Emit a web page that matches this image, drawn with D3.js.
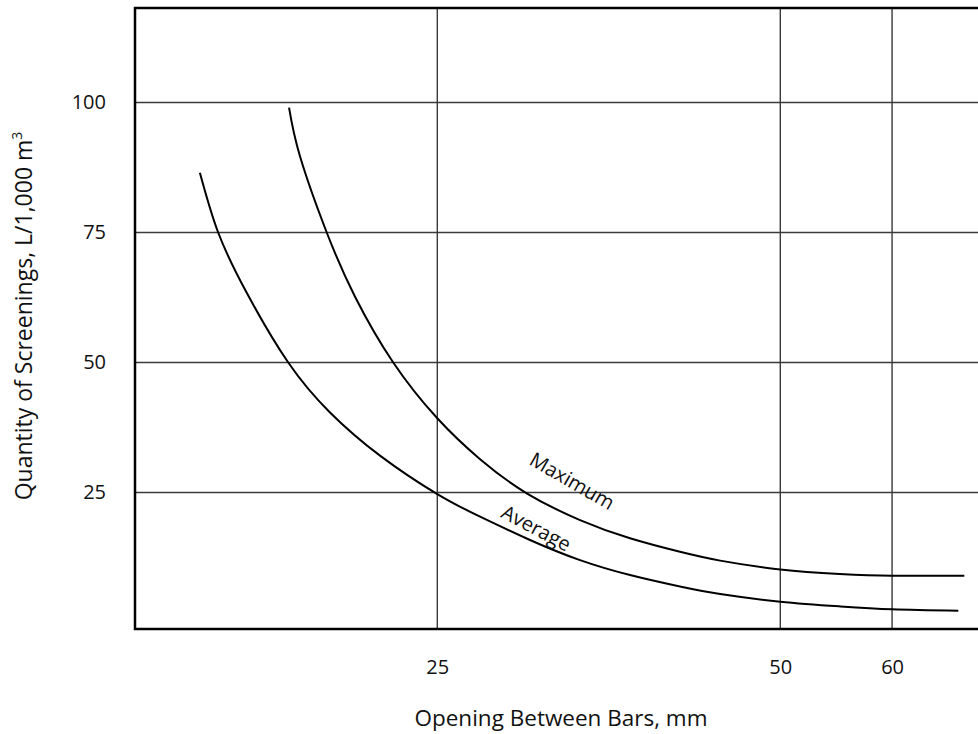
<!DOCTYPE html>
<html>
<head>
<meta charset="utf-8">
<script src="https://cdn.jsdelivr.net/npm/d3@7"></script>
<style>
  html, body { margin: 0; padding: 0; background: #fff; }
  svg { display: block; }
  text { font-family: "Open Sans", "Noto Sans", sans-serif; fill: #111; }
</style>
</head>
<body>
<svg id="chart" width="978" height="734"></svg>
<script>
// Screenings retained vs. clear opening between bars
const xTicks = [25, 50, 60];
const yTicks = [25, 50, 75, 100];

const maximumOpening = [16.85, 17.4, 18.77, 20.28, 22.41, 25, 27.65, 30.69, 34.36, 37.99, 41.8, 45, 50, 55.2, 60, 66.95];
const maximumQty     = [99.0, 89.6, 75, 62.65, 50, 39.27, 31.4, 24.85, 19.7, 16.2, 13.6, 11.9, 10.2, 9.35, 9.0, 9.0];

const averageOpening = [12.72, 13.52, 14.83, 16.81, 18.94, 21.66, 25, 27.65, 30.91, 34.36, 37.99, 41.8, 45, 50, 55.2, 60, 66.36];
const averageQty     = [86.5, 75, 63.3, 50, 40.4, 32.1, 24.7, 20.35, 15.87, 12.0, 9.13, 6.92, 5.46, 4.0, 3.1, 2.54, 2.27];

const svg = d3.select("#chart");

// Plot frame
const plotLeft = 135, plotRight = 978, plotTop = 8, plotBottom = 629;

// Square-root opening scale, linear quantity scale
const x = d3.scaleSqrt().domain([25, 50]).range([437.3, 780.3]);
const y = d3.scaleLinear().domain([25, 100]).range([492.5, 102.5]);

// Grid lines
const grid = svg.append("g").attr("stroke", "#3a3a3a").attr("stroke-width", 1.4);
grid.selectAll("line.h").data(yTicks).join("line").attr("class", "h")
  .attr("x1", plotLeft).attr("x2", plotRight)
  .attr("y1", d => y(d)).attr("y2", d => y(d));
grid.selectAll("line.v").data(xTicks).join("line").attr("class", "v")
  .attr("x1", d => x(d)).attr("x2", d => x(d))
  .attr("y1", plotTop).attr("y2", plotBottom);

// Frame: top, left and bottom edges
svg.append("path")
  .attr("d", `M${plotRight},${plotTop}H${plotLeft}V${plotBottom}H${plotRight}`)
  .attr("fill", "none").attr("stroke", "#000").attr("stroke-width", 2.5);

// Tick labels
const xAxis = svg.append("g")
  .attr("transform", `translate(0,657)`)
  .call(d3.axisBottom(x).tickValues(xTicks).tickSize(0).tickFormat(d3.format("d")));
xAxis.select(".domain").remove();
xAxis.selectAll("text").attr("font-size", 20).attr("font-family", "Open Sans").attr("fill", "#111");

const yAxis = svg.append("g")
  .attr("transform", `translate(${plotLeft - 29},0)`)
  .call(d3.axisLeft(y).tickValues(yTicks).tickSize(0).tickFormat(d3.format("d")));
yAxis.select(".domain").remove();
yAxis.selectAll("text").attr("font-size", 20).attr("font-family", "Open Sans").attr("fill", "#111").attr("x", 0);

// Curves (natural cubic spline through the read points)
const line = d3.line()
  .x(d => x(d[0]))
  .y(d => y(d[1]))
  .curve(d3.curveNatural);

const series = [
  { name: "Maximum", pts: d3.zip(maximumOpening, maximumQty) },
  { name: "Average", pts: d3.zip(averageOpening, averageQty) }
];

svg.append("g").selectAll("path").data(series).join("path")
  .attr("d", d => line(d.pts))
  .attr("fill", "none").attr("stroke", "#000").attr("stroke-width", 2);

// Curve labels
svg.append("text")
  .attr("transform", `translate(${x(33.8)},${y(27.2)}) rotate(30)`)
  .attr("text-anchor", "middle")
  .attr("dy", "0.35em")
  .attr("font-size", 20)
  .text("Maximum");
svg.append("text")
  .attr("transform", `translate(${x(31.3)},${y(17.98)}) rotate(28)`)
  .attr("text-anchor", "middle")
  .attr("dy", "0.3em")
  .attr("font-size", 20)
  .text("Average");

// Axis titles
svg.append("text")
  .attr("x", 561)
  .attr("y", 726)
  .attr("text-anchor", "middle")
  .attr("font-size", 22.5)
  .text("Opening Between Bars, mm");

const yt = svg.append("text")
  .attr("transform", `translate(32,316) rotate(-90)`)
  .attr("text-anchor", "middle")
  .attr("font-size", 23);
yt.append("tspan").text("Quantity of Screenings, L/1,000 m");
yt.append("tspan").attr("font-size", 14).attr("dy", -10).text("3");
</script>
</body>
</html>
